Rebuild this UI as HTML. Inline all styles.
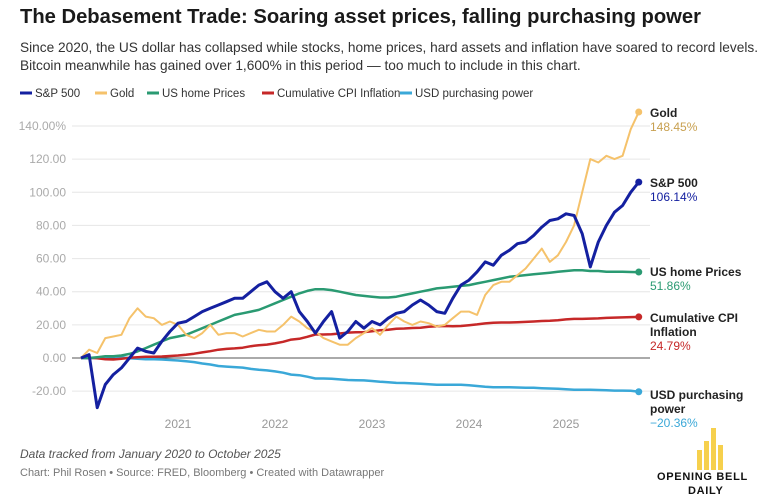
<!DOCTYPE html>
<html><head><meta charset="utf-8"><style>
body{margin:0;background:#fff;font-family:"Liberation Sans",sans-serif;}
#wrap{position:relative;width:774px;height:502px;overflow:hidden;}
.t{position:absolute;white-space:nowrap;}
</style></head><body>
<div id="wrap">
<div class="t" style="left:20px;top:6px;font-size:20.2px;font-weight:bold;color:#1a1a1a;">The Debasement Trade: Soaring asset prices, falling purchasing power</div>
<div class="t" style="left:20px;top:39px;font-size:13.7px;line-height:18px;color:#333;">Since 2020, the US dollar has collapsed while stocks, home prices, hard assets and inflation have soared to record levels.<br>Bitcoin meanwhile has gained over 1,600% in this period — too much to include in this chart.</div>
<svg id="chart" width="774" height="502" style="position:absolute;left:0;top:0"></svg>
<div class="t" style="left:20px;top:447px;font-size:12px;font-style:italic;color:#555;">Data tracked from January 2020 to October 2025</div>
<div class="t" style="left:20px;top:467px;font-size:11px;color:#777;">Chart: Phil Rosen • Source: FRED, Bloomberg • Created with Datawrapper</div>
<div style="position:absolute;left:650px;top:428px;width:115px;height:72px;">
 <div style="position:absolute;left:47px;top:22px;width:5px;height:20px;background:#f6d04d"></div>
 <div style="position:absolute;left:54px;top:13px;width:5px;height:29px;background:#f6d04d"></div>
 <div style="position:absolute;left:61px;top:0px;width:5px;height:42px;background:#f6d04d"></div>
 <div style="position:absolute;left:68px;top:17px;width:5px;height:25px;background:#f6d04d"></div>
 <div class="t" style="left:7px;top:43px;font-size:11px;font-weight:bold;letter-spacing:0.7px;color:#111;">OPENING BELL</div>
 <div class="t" style="left:38px;top:57px;font-size:11px;font-weight:bold;letter-spacing:0.7px;color:#111;">DAILY</div>
</div>
</div>
<script>
const months = 70; // Jan 2020 .. Oct 2025
const yTicks = [140,120,100,80,60,40,20,0,-20];
const yTickLabels = ["140.00%","120.00","100.00","80.00","60.00","40.00","20.00","0.00","-20.00"];
const xYears = [2021,2022,2023,2024,2025];
const seriesNames = ["S&P 500","Gold","US home Prices","Cumulative CPI Inflation","USD purchasing power"];
const sp500 = [0,2,-30,-16,-10,-6,0,6,4,3,10,16, 21,22,25,28,30,32,34,36,36,40,44,46, 40,36,40,28,22,15,22,28,12,16,22,18, 22,20,24,27,28,32,35,32,28,27,36,44, 47,52,58,56,62,65,69,70,74,79,83,84, 87,86,75,55,70,80,88,92,100,106.14];
const gold = [0,5,3,12,13,14,24,30,25,24,20,22, 20,14,12,15,20,14,15,15,13,15,17,16, 16,20,25,22,18,16,12,10,8,8,12,15, 18,14,20,25,22,20,22,21,19,20,24,28, 28,26,38,44,46,46,50,54,60,66,58,62, 70,80,100,120,118,122,120,122,138,148.45];
const home = [0,0,0.5,1,1,1.5,2.5,4,6,8,10,12, 13,14,16,18,20,22,24,26,27,28,29,31, 33,35,37,39,40.5,41.5,41.5,41,40,39,38,37.5, 37,36.5,36.5,37,38,39,40,41,42,42.5,43,43.5, 44,45,46,47,48,49,49.5,50,50.5,51,51.5,52, 52.5,53,53,52.5,52.5,52,52,52,51.9,51.86];
const cpi = [0,0.2,-0.2,-0.8,-0.9,-0.4,0.1,0.5,0.7,0.7,0.9,1.2, 1.5,2.0,2.6,3.4,4.1,5.0,5.5,5.8,6.2,7.1,7.7,8.1, 8.8,9.8,11.1,11.6,12.8,14.2,14.2,14.3,14.8,15.3,15.5,15.6, 16.2,16.7,17.1,17.6,17.8,18.1,18.3,18.8,19.2,19.3,19.2,19.3, 19.8,20.3,20.9,21.3,21.4,21.4,21.6,21.8,22.0,22.3,22.5,22.8, 23.3,23.6,23.6,23.8,23.9,24.2,24.4,24.5,24.7,24.79];
const usd = [0,-0.2,0.2,0.8,0.9,0.4,-0.1,-0.5,-0.7,-0.7,-0.9,-1.2, -1.5,-2.0,-2.5,-3.3,-3.9,-4.8,-5.2,-5.5,-5.8,-6.6,-7.1,-7.5, -8.1,-8.9,-10.0,-10.4,-11.3,-12.4,-12.4,-12.5,-12.9,-13.3,-13.4,-13.5, -13.9,-14.3,-14.6,-15.0,-15.1,-15.3,-15.5,-15.8,-16.1,-16.2,-16.1,-16.2, -16.5,-16.9,-17.3,-17.6,-17.6,-17.6,-17.8,-17.9,-18.0,-18.2,-18.4,-18.6, -18.9,-19.1,-19.1,-19.2,-19.3,-19.5,-19.7,-19.7,-19.8,-20.36];

const NS="http://www.w3.org/2000/svg";
const svg=document.getElementById('chart');
const X0=81, PXY=97;
function xScale(i){return X0+i*PXY/12;}
function xYear(y){return X0+(y-2020)*PXY;}
function yScale(v){return 358-v*(232/140);}
function mk(tag,attrs,parent){const e=document.createElementNS(NS,tag);for(const k in attrs)e.setAttribute(k,attrs[k]);(parent||svg).appendChild(e);return e;}

yTicks.forEach((t,i)=>{
  const g=mk('line',{x1:72,x2:650,y1:yScale(t),y2:yScale(t),stroke:t===0?'#555':'#e6e6e6','stroke-width':1});
  
  
  const tx=mk('text',{x:66,y:yScale(t)+4,'text-anchor':'end','font-size':12,fill:'#aaa','font-family':'Liberation Sans, sans-serif'});
  tx.textContent=yTickLabels[i];
  
  
});
xYears.forEach(y=>{
  const tx=mk('text',{x:xYear(y),y:428,'text-anchor':'middle','font-size':12,fill:'#999','font-family':'Liberation Sans, sans-serif'});
  tx.textContent=y;
  
  
});

const colors=['#1420a0','#f5c26b','#2a9a72','#c62828','#3aa8d8'];
const data=[sp500,gold,home,cpi,usd];
const widths=[3,2,2.5,2.5,2.5];
const keys=['sp500','gold','home-prices','cpi-inflation','usd-purchasing-power'];
[4,3,2,1,0].forEach(s=>{
  const d=data[s].map((v,i)=>(i?'L':'M')+xScale(i).toFixed(1)+','+yScale(v).toFixed(1)).join('');
  const p=mk('path',{d:d,fill:'none',stroke:colors[s],'stroke-width':widths[s],'stroke-linejoin':'round'});
  
  
  const last=data[s].length-1;
  const c=mk('circle',{cx:xScale(last),cy:yScale(data[s][last]),r:3.5,fill:colors[s]});
  
  
});

// end labels (series order)
const labelLines=[["S&P 500"],["Gold"],["US home Prices"],["Cumulative CPI","Inflation"],["USD purchasing","power"]];
const labelY=[187,117,276,322,399];
const valColors=['#1420a0','#c8a050','#2a9a72','#c62828','#3aa8d8'];
[0,1,2,3,4].forEach(s=>{
  const g=mk('g',{});
  
  
  let y=labelY[s];
  labelLines[s].forEach(l=>{
    const t=mk('text',{x:650,y:y,'font-size':12,'font-weight':'bold',fill:'#222','font-family':'Liberation Sans, sans-serif'},g);
    t.textContent=l; y+=14;
  });
  const v=data[s][data[s].length-1];
  const t=mk('text',{x:650,y:y,'font-size':12,fill:valColors[s],'font-family':'Liberation Sans, sans-serif'},g);
  t.textContent=(v<0?'−'+Math.abs(v).toFixed(2):v.toFixed(2))+'%';
});

// legend
const legX=[20,95,147,262,400];
seriesNames.forEach((n,i)=>{
  const g=mk('g',{});
  
  
  mk('line',{x1:legX[i],x2:legX[i]+12,y1:93,y2:93,stroke:colors[i],'stroke-width':3},g);
  const t=mk('text',{x:legX[i]+15,y:97,'font-size':11.5,fill:'#333','font-family':'Liberation Sans, sans-serif'},g);
  t.textContent=n;
});
</script>
</body></html>
